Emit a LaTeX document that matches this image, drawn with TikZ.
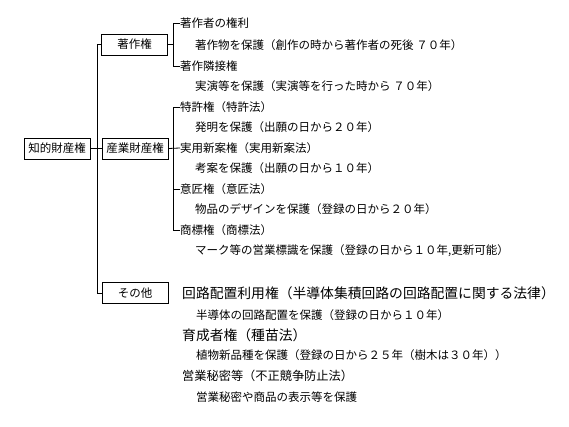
\documentclass[tikz,border=0pt]{standalone}
\usepackage{fontspec}
\newfontfamily\jp{Noto Sans CJK JP}
\begin{document}
\begin{tikzpicture}[x=1pt,y=-1pt,
  ln/.style={line width=0.8pt},
  box/.style={draw,line width=0.8pt,minimum width=66pt,minimum height=21pt,inner sep=0pt,font=\jp\fontsize{11.5}{12}\selectfont},
  txt/.style={anchor=west,inner sep=0pt,font=\jp\fontsize{11.5}{12}\selectfont},
  big/.style={anchor=west,inner sep=0pt,font=\jp\fontsize{13.8}{14}\selectfont},
  mid/.style={anchor=west,inner sep=0pt,font=\jp\fontsize{12.2}{13}\selectfont}]
\useasboundingbox (0,0) rectangle (569,427);
% boxes
\node[box] (root) at (57,148.5) {知的財産権};
\node[box] (cb) at (134.5,44.5) {著作権};
\node[box] (sb) at (135,148.5) {産業財産権};
\node[box] (ob) at (135,293) {その他};
% texts
\node[txt] (c1) at (180,23) {著作者の権利};
\node[txt] (c1s) at (195,45) {著作物を保護（創作の時から著作者の死後 ７０年）};
\node[txt] (c2) at (180,66) {著作隣接権};
\node[txt] (c2s) at (195,86) {実演等を保護（実演等を行った時から ７０年）};
\node[txt] (s1) at (180,107) {特許権（特許法）};
\node[txt] (s1s) at (195,127) {発明を保護（出願の日から２０年）};
\node[txt] (s2) at (180,148) {実用新案権（実用新案法）};
\node[txt] (s2s) at (195,168) {考案を保護（出願の日から１０年）};
\node[txt] (s3) at (180,189) {意匠権（意匠法）};
\node[txt] (s3s) at (195,209) {物品のデザインを保護（登録の日から２０年）};
\node[txt] (s4) at (180,230) {商標権（商標法）};
\node[txt] (s4s) at (195,251) {マーク等の営業標識を保護（登録の日から１０年,更新可能）};
\node[big] (o1) at (182,293) {回路配置利用権（半導体集積回路の回路配置に関する法律）};
\node[txt] (o1s) at (196,315) {半導体の回路配置を保護（登録の日から１０年）};
\node[big] (o2) at (182,335) {育成者権（種苗法）};
\node[txt] (o2s) at (196,355) {植物新品種を保護（登録の日から２５年（樹木は３０年））};
\node[mid] (o3) at (182,376) {営業秘密等（不正競争防止法）};
\node[txt] (o3s) at (196,397) {営業秘密や商品の表示等を保護};
% trunk
\coordinate (tr) at (97,0);
\draw[ln] (root.east) -- (sb.west);
\draw[ln] (cb.west) -- (tr |- cb.west) -- (tr |- ob.west) -- (ob.west);
% copyright subtree
\coordinate (ct) at (173,0);
\draw[ln] (cb.east) -- (ct |- cb.east);
\draw[ln] (c1.west) -- (ct |- c1.west) -- (ct |- c2.west) -- (c2.west);
% industrial subtree
\draw[ln] (sb.east) -- (s2.west);
\draw[ln] (s1.west) -- (ct |- s1.west) -- (ct |- s4.west) -- (s4.west);
\draw[ln] (s3.west) -- (ct |- s3.west);
\end{tikzpicture}
\end{document}
